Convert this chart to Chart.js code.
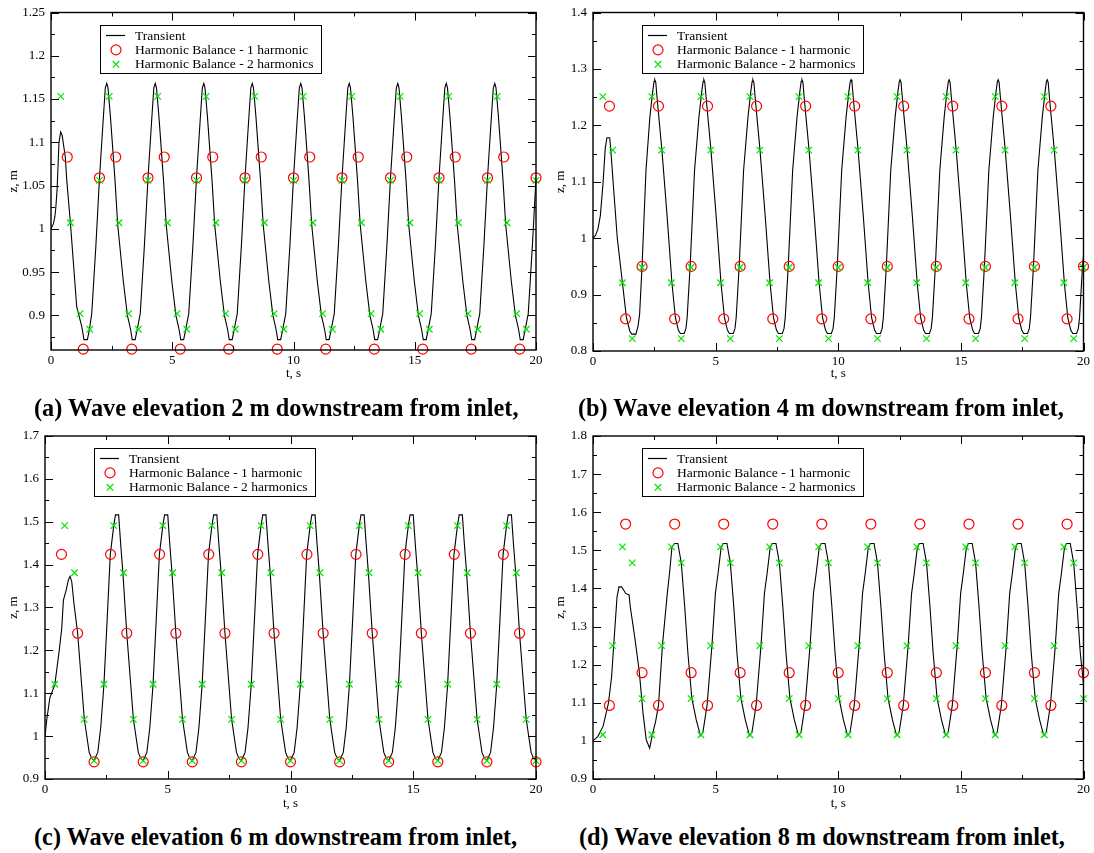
<!DOCTYPE html>
<html>
<head>
<meta charset="utf-8">
<script src="https://cdn.jsdelivr.net/npm/chart.js@4.4.1/dist/chart.umd.min.js"></script>
<style>
  body { margin: 0; background: #fff; width: 1094px; height: 853px; position: relative; overflow: hidden; }
  canvas { position: absolute; }
  .cap { position: absolute; font: bold 24.3px "Liberation Serif", "Times New Roman", serif; color: #000; white-space: nowrap; line-height: 26px; }
</style>
</head>
<body>
<canvas id="cA" width="547" height="390" style="left:0;top:0"></canvas>
<canvas id="cB" width="547" height="390" style="left:547px;top:0"></canvas>
<canvas id="cC" width="547" height="400" style="left:0;top:420px"></canvas>
<canvas id="cD" width="547" height="400" style="left:547px;top:420px"></canvas>
<div class="cap" style="left:34px;top:395px">(a) Wave elevation 2 m downstream from inlet,</div>
<div class="cap" style="left:578px;top:395px">(b) Wave elevation 4 m downstream from inlet,</div>
<div class="cap" style="left:34px;top:824px">(c) Wave elevation 6 m downstream from inlet,</div>
<div class="cap" style="left:579px;top:824px">(d) Wave elevation 8 m downstream from inlet,</div>
<script>
// ---- data ----
const xMajor = [0, 5, 10, 15, 20],
    xMinor = [2.5, 7.5, 12.5, 17.5];

const yMajorA = [0.9, 0.95, 1, 1.05, 1.1, 1.15, 1.2, 1.25],
    yMinorA = [0.875, 0.925, 0.975, 1.025, 1.075, 1.125, 1.175, 1.225],
    yMajorB = [0.8, 0.9, 1, 1.1, 1.2, 1.3, 1.4],
    yMinorB = [0.85, 0.95, 1.05, 1.15, 1.25, 1.35],
    yMajorC = [0.9, 1, 1.1, 1.2, 1.3, 1.4, 1.5, 1.6, 1.7],
    yMinorC = [0.95, 1.05, 1.15, 1.25, 1.35, 1.45, 1.55, 1.65],
    yMajorD = [0.9, 1, 1.1, 1.2, 1.3, 1.4, 1.5, 1.6, 1.7, 1.8],
    yMinorD = [0.95, 1.05, 1.15, 1.25, 1.35, 1.45, 1.55, 1.65, 1.75];

// harmonic balance time instances (same in every panel)
const hbTime1 = [0.67, 1.33, 2, 2.67, 3.33, 4, 4.67, 5.33, 6, 6.67, 7.33, 8, 8.67, 9.33, 10,
    10.67, 11.33, 12, 12.67, 13.33, 14, 14.67, 15.33, 16, 16.67, 17.33, 18, 18.67, 19.33, 20];
const hbTime2 = [0.4, 0.8, 1.2, 1.6, 2, 2.4, 2.8, 3.2, 3.6, 4, 4.4, 4.8, 5.2, 5.6, 6, 6.4, 6.8, 7.2, 7.6, 8,
    8.4, 8.8, 9.2, 9.6, 10, 10.4, 10.8, 11.2, 11.6, 12, 12.4, 12.8, 13.2, 13.6, 14, 14.4, 14.8, 15.2, 15.6, 16,
    16.4, 16.8, 17.2, 17.6, 18, 18.4, 18.8, 19.2, 19.6, 20];

const hb1ZA = [1.083, 0.861, 1.059, 1.083, 0.861, 1.059, 1.083, 0.861, 1.059, 1.083, 0.861, 1.059, 1.083, 0.861, 1.059,
    1.083, 0.861, 1.059, 1.083, 0.861, 1.059, 1.083, 0.861, 1.059, 1.083, 0.861, 1.059, 1.083, 0.861, 1.059];
const hb2ZA = [1.153, 1.007, 0.902, 0.884, 1.056, 1.153, 1.007, 0.902, 0.884, 1.056, 1.153, 1.007, 0.902, 0.884, 1.056,
    1.153, 1.007, 0.902, 0.884, 1.056, 1.153, 1.007, 0.902, 0.884, 1.056, 1.153, 1.007, 0.902, 0.884, 1.056,
    1.153, 1.007, 0.902, 0.884, 1.056, 1.153, 1.007, 0.902, 0.884, 1.056, 1.153, 1.007, 0.902, 0.884, 1.056,
    1.153, 1.007, 0.902, 0.884, 1.056];
const hb1ZB = [1.234, 0.857, 0.95, 1.234, 0.857, 0.95, 1.234, 0.857, 0.95, 1.234, 0.857, 0.95, 1.234, 0.857, 0.95,
    1.234, 0.857, 0.95, 1.234, 0.857, 0.95, 1.234, 0.857, 0.95, 1.234, 0.857, 0.95, 1.234, 0.857, 0.95];
const hb2ZB = [1.251, 1.156, 0.921, 0.822, 0.948, 1.251, 1.156, 0.921, 0.822, 0.948, 1.251, 1.156, 0.921, 0.822, 0.948,
    1.251, 1.156, 0.921, 0.822, 0.948, 1.251, 1.156, 0.921, 0.822, 0.948, 1.251, 1.156, 0.921, 0.822, 0.948,
    1.251, 1.156, 0.921, 0.822, 0.948, 1.251, 1.156, 0.921, 0.822, 0.948, 1.251, 1.156, 0.921, 0.822, 0.948,
    1.251, 1.156, 0.921, 0.822, 0.948];
const hb1ZC = [1.424, 1.24, 0.94, 1.424, 1.24, 0.94, 1.424, 1.24, 0.94, 1.424, 1.24, 0.94, 1.424, 1.24, 0.94,
    1.424, 1.24, 0.94, 1.424, 1.24, 0.94, 1.424, 1.24, 0.94, 1.424, 1.24, 0.94, 1.424, 1.24, 0.94];
const hb2ZC = [1.121, 1.491, 1.381, 1.039, 0.943, 1.121, 1.491, 1.381, 1.039, 0.943, 1.121, 1.491, 1.381, 1.039, 0.943,
    1.121, 1.491, 1.381, 1.039, 0.943, 1.121, 1.491, 1.381, 1.039, 0.943, 1.121, 1.491, 1.381, 1.039, 0.943,
    1.121, 1.491, 1.381, 1.039, 0.943, 1.121, 1.491, 1.381, 1.039, 0.943, 1.121, 1.491, 1.381, 1.039, 0.943,
    1.121, 1.491, 1.381, 1.039, 0.943];
const hb1ZD = [1.093, 1.569, 1.179, 1.093, 1.569, 1.179, 1.093, 1.569, 1.179, 1.093, 1.569, 1.179, 1.093, 1.569, 1.179,
    1.093, 1.569, 1.179, 1.093, 1.569, 1.179, 1.093, 1.569, 1.179, 1.093, 1.569, 1.179, 1.093, 1.569, 1.179];
const hb2ZD = [1.016, 1.25, 1.509, 1.467, 1.111, 1.016, 1.25, 1.509, 1.467, 1.111, 1.016, 1.25, 1.509, 1.467, 1.111,
    1.016, 1.25, 1.509, 1.467, 1.111, 1.016, 1.25, 1.509, 1.467, 1.111, 1.016, 1.25, 1.509, 1.467, 1.111,
    1.016, 1.25, 1.509, 1.467, 1.111, 1.016, 1.25, 1.509, 1.467, 1.111, 1.016, 1.25, 1.509, 1.467, 1.111,
    1.016, 1.25, 1.509, 1.467, 1.111];

// transient solution, one row per wave period
const transTimeA = [
    0, 0.1, 0.16, 0.2, 0.25, 0.33, 0.4, 0.46, 0.59, 0.65, 0.8, 1.06, 1.27, 1.36, 1.5, 1.58, 1.68, 1.85, 2, 2.15,
    2.24, 2.3, 2.35, 2.45, 2.64, 2.75, 2.98, 3.15, 3.28, 3.35, 3.47, 3.55, 3.68, 3.85, 4, 4.15,
    4.24, 4.3, 4.35, 4.45, 4.64, 4.75, 4.98, 5.15, 5.28, 5.35, 5.47, 5.55, 5.68, 5.85, 6, 6.15,
    6.24, 6.3, 6.35, 6.45, 6.64, 6.75, 6.98, 7.15, 7.28, 7.35, 7.47, 7.55, 7.68, 7.85, 8, 8.15,
    8.24, 8.3, 8.35, 8.45, 8.64, 8.75, 8.98, 9.15, 9.28, 9.35, 9.47, 9.55, 9.68, 9.85, 10, 10.15,
    10.24, 10.3, 10.35, 10.45, 10.64, 10.75, 10.98, 11.15, 11.28, 11.35, 11.47, 11.55, 11.68, 11.85, 12, 12.15,
    12.24, 12.3, 12.35, 12.45, 12.64, 12.75, 12.98, 13.15, 13.28, 13.35, 13.47, 13.55, 13.68, 13.85, 14, 14.15,
    14.24, 14.3, 14.35, 14.45, 14.64, 14.75, 14.98, 15.15, 15.28, 15.35, 15.47, 15.55, 15.68, 15.85, 16, 16.15,
    16.24, 16.3, 16.35, 16.45, 16.64, 16.75, 16.98, 17.15, 17.28, 17.35, 17.47, 17.55, 17.68, 17.85, 18, 18.15,
    18.24, 18.3, 18.35, 18.45, 18.64, 18.75, 18.98, 19.15, 19.28, 19.35, 19.47, 19.55, 19.68, 19.85, 20
];
const transZA = [
    1, 1.006, 1.014, 1.025, 1.045, 1.1, 1.112, 1.108, 1.083, 1.056, 1.007, 0.91, 0.887, 0.872, 0.872, 0.883, 0.902, 0.98, 1.059, 1.125,
    1.163, 1.168, 1.163, 1.13, 1.056, 1.005, 0.94, 0.9, 0.884, 0.872, 0.872, 0.883, 0.902, 0.98, 1.059, 1.125,
    1.163, 1.168, 1.163, 1.13, 1.056, 1.005, 0.94, 0.9, 0.884, 0.872, 0.872, 0.883, 0.902, 0.98, 1.059, 1.125,
    1.163, 1.168, 1.163, 1.13, 1.056, 1.005, 0.94, 0.9, 0.884, 0.872, 0.872, 0.883, 0.902, 0.98, 1.059, 1.125,
    1.163, 1.168, 1.163, 1.13, 1.056, 1.005, 0.94, 0.9, 0.884, 0.872, 0.872, 0.883, 0.902, 0.98, 1.059, 1.125,
    1.163, 1.168, 1.163, 1.13, 1.056, 1.005, 0.94, 0.9, 0.884, 0.872, 0.872, 0.883, 0.902, 0.98, 1.059, 1.125,
    1.163, 1.168, 1.163, 1.13, 1.056, 1.005, 0.94, 0.9, 0.884, 0.872, 0.872, 0.883, 0.902, 0.98, 1.059, 1.125,
    1.163, 1.168, 1.163, 1.13, 1.056, 1.005, 0.94, 0.9, 0.884, 0.872, 0.872, 0.883, 0.902, 0.98, 1.059, 1.125,
    1.163, 1.168, 1.163, 1.13, 1.056, 1.005, 0.94, 0.9, 0.884, 0.872, 0.872, 0.883, 0.902, 0.98, 1.059, 1.125,
    1.163, 1.168, 1.163, 1.13, 1.056, 1.005, 0.94, 0.9, 0.884, 0.872, 0.872, 0.883, 0.902, 0.98, 1.059
];

const transTimeB = [
    0, 0.1, 0.2, 0.3, 0.41, 0.5, 0.57, 0.68, 0.72, 0.82, 0.99, 1.2, 1.36, 1.5, 1.58, 1.75, 1.84, 1.9, 2, 2.16, 2.32, 2.44,
    2.49, 2.52, 2.56, 2.62, 2.81, 3.02, 3.22, 3.36, 3.48, 3.56, 3.72, 3.79, 3.84, 3.96, 4.14, 4.32, 4.44,
    4.49, 4.52, 4.56, 4.62, 4.81, 5.02, 5.22, 5.36, 5.48, 5.56, 5.72, 5.79, 5.84, 5.96, 6.14, 6.32, 6.44,
    6.49, 6.52, 6.56, 6.62, 6.81, 7.02, 7.22, 7.36, 7.48, 7.56, 7.72, 7.79, 7.84, 7.96, 8.14, 8.32, 8.44,
    8.49, 8.52, 8.56, 8.62, 8.81, 9.02, 9.22, 9.36, 9.48, 9.56, 9.72, 9.79, 9.84, 9.96, 10.14, 10.32, 10.44,
    10.49, 10.52, 10.56, 10.62, 10.81, 11.02, 11.22, 11.36, 11.48, 11.56, 11.72, 11.79, 11.84, 11.96, 12.14, 12.32, 12.44,
    12.49, 12.52, 12.56, 12.62, 12.81, 13.02, 13.22, 13.36, 13.48, 13.56, 13.72, 13.79, 13.84, 13.96, 14.14, 14.32, 14.44,
    14.49, 14.52, 14.56, 14.62, 14.81, 15.02, 15.22, 15.36, 15.48, 15.56, 15.72, 15.79, 15.84, 15.96, 16.14, 16.32, 16.44,
    16.49, 16.52, 16.56, 16.62, 16.81, 17.02, 17.22, 17.36, 17.48, 17.56, 17.72, 17.79, 17.84, 17.96, 18.14, 18.32, 18.44,
    18.49, 18.52, 18.56, 18.62, 18.81, 19.02, 19.22, 19.36, 19.48, 19.56, 19.72, 19.79, 19.84, 19.96, 20
];
const transZB = [
    1, 1.005, 1.016, 1.04, 1.098, 1.16, 1.178, 1.178, 1.16, 1.1, 1, 0.921, 0.86, 0.835, 0.83, 0.83, 0.845, 0.865, 0.95, 1.12, 1.215, 1.262,
    1.278, 1.281, 1.276, 1.245, 1.156, 1.04, 0.92, 0.859, 0.837, 0.831, 0.831, 0.84, 0.86, 0.95, 1.12, 1.215, 1.262,
    1.278, 1.281, 1.276, 1.245, 1.156, 1.04, 0.92, 0.859, 0.837, 0.831, 0.831, 0.84, 0.86, 0.95, 1.12, 1.215, 1.262,
    1.278, 1.281, 1.276, 1.245, 1.156, 1.04, 0.92, 0.859, 0.837, 0.831, 0.831, 0.84, 0.86, 0.95, 1.12, 1.215, 1.262,
    1.278, 1.281, 1.276, 1.245, 1.156, 1.04, 0.92, 0.859, 0.837, 0.831, 0.831, 0.84, 0.86, 0.95, 1.12, 1.215, 1.262,
    1.278, 1.281, 1.276, 1.245, 1.156, 1.04, 0.92, 0.859, 0.837, 0.831, 0.831, 0.84, 0.86, 0.95, 1.12, 1.215, 1.262,
    1.278, 1.281, 1.276, 1.245, 1.156, 1.04, 0.92, 0.859, 0.837, 0.831, 0.831, 0.84, 0.86, 0.95, 1.12, 1.215, 1.262,
    1.278, 1.281, 1.276, 1.245, 1.156, 1.04, 0.92, 0.859, 0.837, 0.831, 0.831, 0.84, 0.86, 0.95, 1.12, 1.215, 1.262,
    1.278, 1.281, 1.276, 1.245, 1.156, 1.04, 0.92, 0.859, 0.837, 0.831, 0.831, 0.84, 0.86, 0.95, 1.12, 1.215, 1.262,
    1.278, 1.281, 1.276, 1.245, 1.156, 1.04, 0.92, 0.859, 0.837, 0.831, 0.831, 0.84, 0.86, 0.95, 0.97
];

const transTimeC = [
    0, 0.07, 0.2, 0.4, 0.58, 0.68, 0.75, 0.86, 0.95, 1.02, 1.09, 1.18, 1.33, 1.6, 1.8, 1.9,
    2, 2.15, 2.27, 2.4, 2.53, 2.66, 2.8, 2.87, 3, 3.08, 3.17, 3.33, 3.6, 3.8, 3.9,
    4, 4.15, 4.27, 4.4, 4.53, 4.66, 4.8, 4.87, 5, 5.08, 5.17, 5.33, 5.6, 5.8, 5.9,
    6, 6.15, 6.27, 6.4, 6.53, 6.66, 6.8, 6.87, 7, 7.08, 7.17, 7.33, 7.6, 7.8, 7.9,
    8, 8.15, 8.27, 8.4, 8.53, 8.66, 8.8, 8.87, 9, 9.08, 9.17, 9.33, 9.6, 9.8, 9.9,
    10, 10.15, 10.27, 10.4, 10.53, 10.66, 10.8, 10.87, 11, 11.08, 11.17, 11.33, 11.6, 11.8, 11.9,
    12, 12.15, 12.27, 12.4, 12.53, 12.66, 12.8, 12.87, 13, 13.08, 13.17, 13.33, 13.6, 13.8, 13.9,
    14, 14.15, 14.27, 14.4, 14.53, 14.66, 14.8, 14.87, 15, 15.08, 15.17, 15.33, 15.6, 15.8, 15.9,
    16, 16.15, 16.27, 16.4, 16.53, 16.66, 16.8, 16.87, 17, 17.08, 17.17, 17.33, 17.6, 17.8, 17.9,
    18, 18.15, 18.27, 18.4, 18.53, 18.66, 18.8, 18.87, 19, 19.08, 19.17, 19.33, 19.6, 19.8, 19.9,
    20
];
const transZC = [
    1, 1.038, 1.09, 1.12, 1.2, 1.25, 1.317, 1.34, 1.364, 1.373, 1.36, 1.309, 1.24, 1.04, 0.962, 0.948,
    0.943, 0.962, 1.02, 1.12, 1.27, 1.424, 1.491, 1.516, 1.516, 1.45, 1.383, 1.24, 1.04, 0.962, 0.948,
    0.943, 0.962, 1.02, 1.12, 1.27, 1.424, 1.491, 1.516, 1.516, 1.45, 1.383, 1.24, 1.04, 0.962, 0.948,
    0.943, 0.962, 1.02, 1.12, 1.27, 1.424, 1.491, 1.516, 1.516, 1.45, 1.383, 1.24, 1.04, 0.962, 0.948,
    0.943, 0.962, 1.02, 1.12, 1.27, 1.424, 1.491, 1.516, 1.516, 1.45, 1.383, 1.24, 1.04, 0.962, 0.948,
    0.943, 0.962, 1.02, 1.12, 1.27, 1.424, 1.491, 1.516, 1.516, 1.45, 1.383, 1.24, 1.04, 0.962, 0.948,
    0.943, 0.962, 1.02, 1.12, 1.27, 1.424, 1.491, 1.516, 1.516, 1.45, 1.383, 1.24, 1.04, 0.962, 0.948,
    0.943, 0.962, 1.02, 1.12, 1.27, 1.424, 1.491, 1.516, 1.516, 1.45, 1.383, 1.24, 1.04, 0.962, 0.948,
    0.943, 0.962, 1.02, 1.12, 1.27, 1.424, 1.491, 1.516, 1.516, 1.45, 1.383, 1.24, 1.04, 0.962, 0.948,
    0.943, 0.962, 1.02, 1.12, 1.27, 1.424, 1.491, 1.516, 1.516, 1.45, 1.383, 1.24, 1.04, 0.962, 0.948,
    0.943
];

const transTimeD = [
    0, 0.2, 0.41, 0.63, 0.76, 0.84, 0.98, 1.06, 1.16, 1.25, 1.33, 1.47, 1.52, 1.7, 1.88, 2.04, 2.17,
    2.31, 2.42, 2.55, 2.67, 2.83, 3.03, 3.12, 3.22, 3.32, 3.46, 3.6, 3.74, 3.87, 4.03, 4.21,
    4.38, 4.48, 4.65, 4.85, 4.99, 5.1, 5.22, 5.3, 5.46, 5.6, 5.74, 5.87, 6.03, 6.21,
    6.38, 6.48, 6.65, 6.85, 6.99, 7.1, 7.22, 7.3, 7.46, 7.6, 7.74, 7.87, 8.03, 8.21,
    8.38, 8.48, 8.65, 8.85, 8.99, 9.1, 9.22, 9.3, 9.46, 9.6, 9.74, 9.87, 10.03, 10.21,
    10.38, 10.48, 10.65, 10.85, 10.99, 11.1, 11.22, 11.3, 11.46, 11.6, 11.74, 11.87, 12.03, 12.21,
    12.38, 12.48, 12.65, 12.85, 12.99, 13.1, 13.22, 13.3, 13.46, 13.6, 13.74, 13.87, 14.03, 14.21,
    14.38, 14.48, 14.65, 14.85, 14.99, 15.1, 15.22, 15.3, 15.46, 15.6, 15.74, 15.87, 16.03, 16.21,
    16.38, 16.48, 16.65, 16.85, 16.99, 17.1, 17.22, 17.3, 17.46, 17.6, 17.74, 17.87, 18.03, 18.21,
    18.38, 18.48, 18.65, 18.85, 18.99, 19.1, 19.22, 19.3, 19.46, 19.6, 19.74, 19.87, 20
];
const transZD = [
    1, 1.012, 1.038, 1.099, 1.169, 1.247, 1.378, 1.404, 1.404, 1.396, 1.387, 1.383, 1.352, 1.273, 1.186, 1.073, 1.003,
    0.981, 1.016, 1.05, 1.093, 1.25, 1.387, 1.44, 1.509, 1.518, 1.518, 1.467, 1.352, 1.23, 1.112, 1.055,
    1.014, 1.022, 1.093, 1.25, 1.387, 1.44, 1.505, 1.518, 1.518, 1.467, 1.352, 1.23, 1.112, 1.055,
    1.014, 1.022, 1.093, 1.25, 1.387, 1.44, 1.505, 1.518, 1.518, 1.467, 1.352, 1.23, 1.112, 1.055,
    1.014, 1.022, 1.093, 1.25, 1.387, 1.44, 1.505, 1.518, 1.518, 1.467, 1.352, 1.23, 1.112, 1.055,
    1.014, 1.022, 1.093, 1.25, 1.387, 1.44, 1.505, 1.518, 1.518, 1.467, 1.352, 1.23, 1.112, 1.055,
    1.014, 1.022, 1.093, 1.25, 1.387, 1.44, 1.505, 1.518, 1.518, 1.467, 1.352, 1.23, 1.112, 1.055,
    1.014, 1.022, 1.093, 1.25, 1.387, 1.44, 1.505, 1.518, 1.518, 1.467, 1.352, 1.23, 1.112, 1.055,
    1.014, 1.022, 1.093, 1.25, 1.387, 1.44, 1.505, 1.518, 1.518, 1.467, 1.352, 1.23, 1.112, 1.055,
    1.014, 1.022, 1.093, 1.25, 1.387, 1.44, 1.505, 1.518, 1.518, 1.467, 1.352, 1.23, 1.15
];

const seriesLabels = ['Transient', 'Harmonic Balance - 1 harmonic', 'Harmonic Balance - 2 harmonics'];

// ---- drawing ----
const serif = '"Liberation Serif", "Times New Roman", serif';

const pts = (xs, ys) => xs.map((x, i) => ({x: x, y: ys[i]}));

// closed frame with inward major/minor ticks on all four sides
const frameTicks = {
    id: 'frameTicks',
    afterDatasetsDraw(chart, args, opts) {
        const {ctx, chartArea: a, scales: {x, y}} = chart;
        ctx.save();
        ctx.strokeStyle = '#000';
        ctx.lineWidth = 1;
        ctx.beginPath();
        const xt = (vals, len) => vals.forEach(v => {
            const p = Math.round(x.getPixelForValue(v)) + 0.5;
            ctx.moveTo(p, a.bottom); ctx.lineTo(p, a.bottom - len);
            ctx.moveTo(p, a.top); ctx.lineTo(p, a.top + len);
        });
        const yt = (vals, len) => vals.forEach(v => {
            const p = Math.round(y.getPixelForValue(v)) + 0.5;
            ctx.moveTo(a.left, p); ctx.lineTo(a.left + len, p);
            ctx.moveTo(a.right, p); ctx.lineTo(a.right - len, p);
        });
        xt(opts.xMajor, 8); xt(opts.xMinor, 4);
        yt(opts.yMajor, 8); yt(opts.yMinor, 4);
        ctx.stroke();
        ctx.lineWidth = 1.4;
        ctx.strokeRect(a.left, a.top, a.right - a.left, a.bottom - a.top);
        ctx.restore();
    }
};

// boxed legend in the upper left of the plot
const boxLegend = {
    id: 'boxLegend',
    afterDatasetsDraw(chart) {
        const {ctx, chartArea: a} = chart;
        const left = Math.round(a.left + 49), top = Math.round(a.top + 12), w = 221, h = 48;
        ctx.save();
        ctx.fillStyle = '#fff';
        ctx.fillRect(left, top, w, h);
        ctx.strokeStyle = '#000';
        ctx.lineWidth = 1;
        ctx.strokeRect(left + 0.5, top + 0.5, w, h);
        ctx.font = '13.5px ' + serif;
        ctx.textBaseline = 'middle';
        chart.data.datasets.forEach((ds, i) => {
            const cy = top + 10.5 + i * 14.4, cx = left + 16;
            ctx.beginPath();
            if (ds.showLine) {
                ctx.strokeStyle = '#000'; ctx.lineWidth = 1.2;
                ctx.moveTo(left + 6, cy); ctx.lineTo(left + 25, cy);
            } else if (ds.pointStyle === 'circle') {
                ctx.strokeStyle = ds.pointBorderColor; ctx.lineWidth = 1.2;
                ctx.arc(cx, cy, 5, 0, Math.PI * 2);
            } else {
                ctx.strokeStyle = ds.pointBorderColor; ctx.lineWidth = 1.2;
                ctx.moveTo(cx - 3.3, cy - 3.3); ctx.lineTo(cx + 3.3, cy + 3.3);
                ctx.moveTo(cx - 3.3, cy + 3.3); ctx.lineTo(cx + 3.3, cy - 3.3);
            }
            ctx.stroke();
            ctx.fillStyle = '#000';
            ctx.fillText(ds.label, left + 35, cy + 0.5);
        });
        ctx.restore();
    }
};

function panel(id, box, yMin, yMax, yMajor, yMinor, tT, tZ, h1, h2) {
    const canvas = document.getElementById(id);
    const W = canvas.width, H = canvas.height;
    return new Chart(canvas.getContext('2d'), {
        type: 'scatter',
        data: {
            datasets: [
                {
                    label: seriesLabels[0],
                    data: pts(tT, tZ),
                    showLine: true,
                    borderColor: '#000',
                    borderWidth: 1.1,
                    pointRadius: 0,
                    tension: 0,
                    order: 3
                },
                {
                    label: seriesLabels[1],
                    data: pts(hbTime1, h1),
                    pointStyle: 'circle',
                    pointRadius: 5,
                    pointBorderColor: '#ff0000',
                    pointBackgroundColor: 'rgba(0,0,0,0)',
                    pointBorderWidth: 1.2,
                    showLine: false,
                    clip: false,
                    order: 2
                },
                {
                    label: seriesLabels[2],
                    data: pts(hbTime2, h2),
                    pointStyle: 'crossRot',
                    pointRadius: 4.6,
                    pointBorderColor: '#00e600',
                    pointBorderWidth: 1.2,
                    showLine: false,
                    clip: false,
                    order: 1
                }
            ]
        },
        options: {
            responsive: false,
            animation: false,
            devicePixelRatio: 1,
            events: [],
            layout: { padding: { left: 0, top: box.top, right: W - box.right, bottom: 0 } },
            scales: {
                x: {
                    type: 'linear',
                    min: 0, max: 20,
                    grid: { display: false, drawTicks: false },
                    border: { display: false },
                    afterBuildTicks: s => { s.ticks = xMajor.map(v => ({value: v})); },
                    afterFit: s => { s.height = H - box.bottom; },
                    ticks: { color: '#000', padding: 4, maxRotation: 0, autoSkip: false,
                        font: { family: serif, size: 13, lineHeight: 1 },
                        callback: v => String(v) },
                    title: { display: true, text: 't, s', color: '#000',
                        font: { family: serif, size: 13, lineHeight: 1.2 }, padding: { top: 0, bottom: 9 } }
                },
                y: {
                    type: 'linear',
                    min: yMin, max: yMax,
                    grid: { display: false, drawTicks: false },
                    border: { display: false },
                    afterBuildTicks: s => { s.ticks = yMajor.map(v => ({value: v})); },
                    afterFit: s => { s.width = box.left; },
                    ticks: { color: '#000', padding: 6, autoSkip: false,
                        font: { family: serif, size: 13, lineHeight: 1 },
                        callback: v => String(Number(v.toFixed(3))) },
                    title: { display: true, text: 'z, m', color: '#000',
                        font: { family: serif, size: 13, lineHeight: 1.2 }, padding: { top: 6, bottom: 0 } }
                }
            },
            plugins: {
                legend: { display: false },
                tooltip: { enabled: false },
                frameTicks: { xMajor: xMajor, xMinor: xMinor, yMajor: yMajor, yMinor: yMinor }
            }
        },
        plugins: [frameTicks, boxLegend]
    });
}

panel('cA', {left: 51, top: 12, right: 536, bottom: 350}, 0.86, 1.25, yMajorA, yMinorA, transTimeA, transZA, hb1ZA, hb2ZA);
panel('cB', {left: 46, top: 7, right: 537, bottom: 351}, 0.8, 1.4, yMajorB, yMinorB, transTimeB, transZB, hb1ZB, hb2ZB);
panel('cC', {left: 45, top: 16, right: 536, bottom: 359}, 0.9, 1.7, yMajorC, yMinorC, transTimeC, transZC, hb1ZC, hb2ZC);
panel('cD', {left: 46, top: 16, right: 537, bottom: 359}, 0.9, 1.8, yMajorD, yMinorD, transTimeD, transZD, hb1ZD, hb2ZD);
</script>
</body>
</html>
